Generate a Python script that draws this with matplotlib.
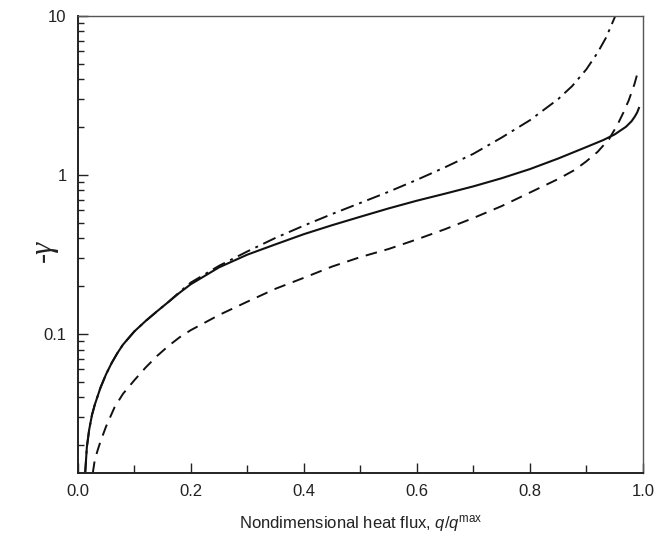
import numpy as np
import matplotlib
matplotlib.use("Agg")
import matplotlib.pyplot as plt
from matplotlib.ticker import FixedLocator, NullFormatter, LogLocator

plt.rcParams['font.family'] = ['Liberation Sans', 'DejaVu Sans']
plt.rcParams['mathtext.fontset'] = 'custom'
plt.rcParams['mathtext.it'] = 'Liberation Sans:italic'
plt.rcParams['mathtext.rm'] = 'Liberation Sans'

# solid curve
x_solid = [0.013, 0.016, 0.02, 0.025, 0.03, 0.04, 0.05, 0.06, 0.07, 0.08, 0.10, 0.12,
           0.14, 0.16, 0.18, 0.20, 0.25, 0.30, 0.35, 0.40, 0.45, 0.50, 0.55, 0.60,
           0.65, 0.70, 0.75, 0.80, 0.85, 0.90, 0.93, 0.95, 0.97, 0.98, 0.986, 0.99, 0.993]
y_solid = [0.0134, 0.0195, 0.025, 0.031, 0.036, 0.046, 0.056, 0.066, 0.076, 0.086, 0.104, 0.121,
           0.139, 0.159, 0.182, 0.206, 0.263, 0.316, 0.367, 0.425, 0.484, 0.547, 0.617, 0.69,
           0.764, 0.849, 0.955, 1.09, 1.27, 1.50, 1.66, 1.80, 2.01, 2.18, 2.34, 2.48, 2.64]

# dash-dot curve
x_dashdot = [0.013, 0.016, 0.02, 0.025, 0.03, 0.04, 0.05, 0.06, 0.07, 0.08, 0.10, 0.12,
             0.14, 0.16, 0.18, 0.20, 0.25, 0.30, 0.35, 0.40, 0.45, 0.50, 0.55, 0.60,
             0.65, 0.70, 0.75, 0.80, 0.85, 0.875, 0.90, 0.92, 0.935, 0.95, 0.955]
y_dashdot = [0.0134, 0.0195, 0.025, 0.031, 0.036, 0.046, 0.056, 0.066, 0.076, 0.086, 0.104, 0.121,
             0.139, 0.159, 0.184, 0.211, 0.269, 0.331, 0.403, 0.481, 0.569, 0.668, 0.785, 0.933,
             1.12, 1.36, 1.72, 2.21, 3.00, 3.63, 4.62, 5.89, 7.33, 9.77, 11.2]

# dashed curve
x_dashed = [0.0265, 0.03, 0.035, 0.04, 0.05, 0.065, 0.08, 0.10, 0.12, 0.14, 0.16, 0.18,
            0.20, 0.25, 0.30, 0.35, 0.40, 0.45, 0.50, 0.55, 0.60, 0.65, 0.70, 0.75,
            0.80, 0.85, 0.88, 0.90, 0.92, 0.94, 0.955, 0.965, 0.975, 0.985, 0.992]
y_dashed = [0.0134, 0.0162, 0.0186, 0.0211, 0.0263, 0.0347, 0.0422, 0.0513, 0.0617, 0.0728, 0.0841, 0.0955,
            0.106, 0.132, 0.160, 0.193, 0.226, 0.266, 0.305, 0.343, 0.394, 0.457, 0.537, 0.638,
            0.776, 0.944, 1.08, 1.22, 1.40, 1.68, 2.07, 2.45, 2.95, 3.72, 4.57]

y_major = [0.1, 1, 10]
y_major_labels = ['0.1', '1', '10']
x_major = [0.0, 0.2, 0.4, 0.6, 0.8, 1.0]

fig = plt.figure(figsize=(6.54, 5.39), dpi=100)
ax = fig.add_axes([0.119, 0.1224, 0.864, 0.848])

ax.plot(x_solid, y_solid, color='#111111', lw=1.5, ls='-')
ax.plot(x_dashed, y_dashed, color='#111111', lw=1.4, ls=(0, (6, 4)))
ax.plot(x_dashdot, y_dashdot, color='#111111', lw=1.4, ls=(0, (7, 3, 1.5, 3)))

ax.set_yscale('log')
ax.set_xlim(0, 1.0)
ax.set_ylim(0.0134, 10)

ax.yaxis.set_major_locator(FixedLocator(y_major))
ax.set_yticklabels(y_major_labels)
ax.yaxis.set_minor_locator(LogLocator(base=10, subs=np.arange(2, 10)))
ax.yaxis.set_minor_formatter(NullFormatter())

ax.set_xticks(x_major)
ax.set_xticklabels([f'{v:.1f}' for v in x_major])
ax.set_xticks(np.arange(0.1, 1.0, 0.2), minor=True)

ax.tick_params(which='both', direction='in', top=False, right=False,
               labelsize=12, color='#222222', labelcolor='#222222')
ax.tick_params(which='major', length=7, width=1.0, pad=8)
ax.tick_params(which='minor', length=4, width=1.0)
ax.tick_params(axis='x', which='minor', length=6)

for side in ['left', 'bottom']:
    ax.spines[side].set_linewidth(1.4)
    ax.spines[side].set_color('#222222')
for side in ['top', 'right']:
    ax.spines[side].set_linewidth(1.0)
    ax.spines[side].set_color('#555555')

ax.set_xlabel(r'Nondimensional heat flux, $q/q^{\mathrm{max}}$', fontsize=12,
              color='#222222', labelpad=10)
fig.text(0.067, 0.535, '-\u03b3', rotation=90, fontsize=22, family='Liberation Serif',
         style='italic', ha='center', va='center', color='#222222')

fig.savefig('out.png', dpi=100)
